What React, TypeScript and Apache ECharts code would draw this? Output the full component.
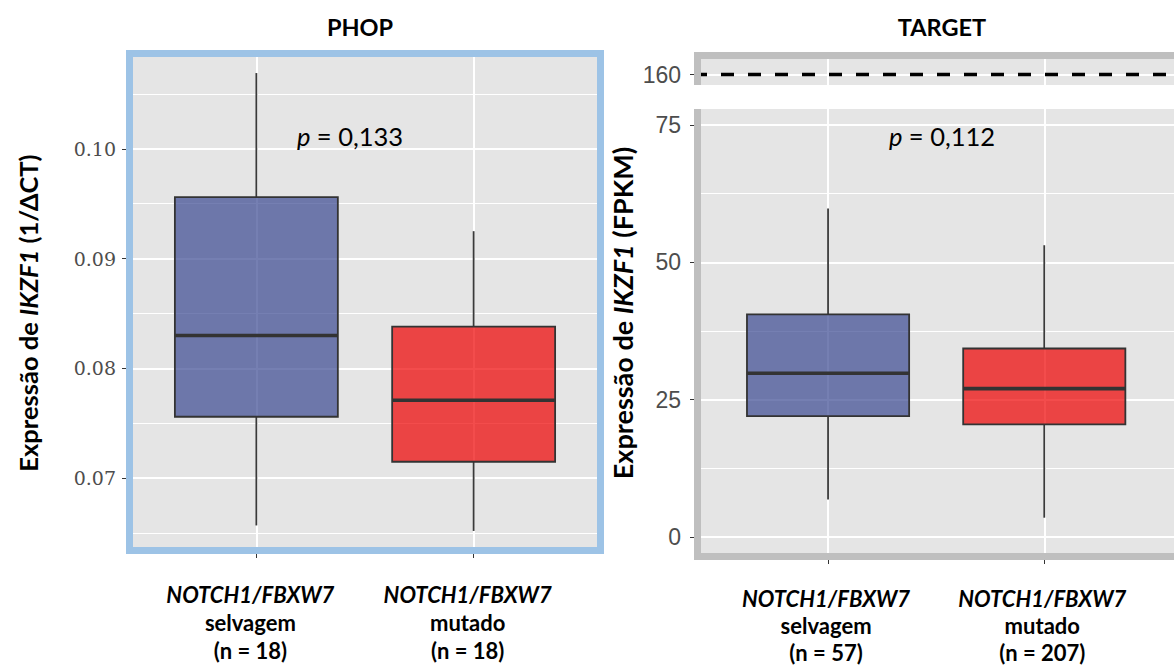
import React, { useEffect, useRef } from 'react';
import * as echarts from 'echarts';

// ---------- data ----------
const GROUPS = ['selvagem', 'mutado'];
const GENE = 'NOTCH1/FBXW7';
const PANEL_TITLES = ['PHOP', 'TARGET'];
const PHOP_N = [18, 18];
const TARGET_N = [57, 207];
// [min, Q1, median, Q3, max]
const PHOP_WT = [0.0657, 0.0756, 0.083, 0.0956, 0.1069];
const PHOP_MUT = [0.0652, 0.0715, 0.0771, 0.0838, 0.0925];
const TARGET_WT = [6.8, 22.0, 29.8, 40.5, 59.8];
const TARGET_MUT = [3.5, 20.5, 27.0, 34.3, 53.1];
const PHOP_MAJOR = [0.07, 0.08, 0.09, 0.1];
const PHOP_MINOR = [0.065, 0.075, 0.085, 0.095, 0.105];
const TARGET_MAJOR = [0, 25, 50, 75];
const TARGET_MINOR = [12.5, 37.5, 62.5];
const TARGET_BREAK = [160];
const P_VALUES = ['0,133', '0,112'];
const FILLS = ['rgba(59,73,146,0.7)', 'rgba(238,0,0,0.7)'];

const FONT = 'Lato';
const BG = '#e5e5e5';
const TICK = '#333333';

function boxRender(params: any, api: any) {
  const x = api.value(0);
  const pMin = api.coord([x, api.value(1)]);
  const pQ1 = api.coord([x, api.value(2)]);
  const pMed = api.coord([x, api.value(3)]);
  const pQ3 = api.coord([x, api.value(4)]);
  const pMax = api.coord([x, api.value(5)]);
  const w = api.size([0.75, 0])[0];
  const cx = pMed[0];
  const fill = FILLS[params.dataIndex];
  const stroke = { stroke: '#3a3a3a', lineWidth: 1.8 };
  return {
    type: 'group',
    children: [
      { type: 'line', shape: { x1: cx, y1: pMin[1], x2: cx, y2: pQ1[1] }, style: stroke },
      { type: 'line', shape: { x1: cx, y1: pQ3[1], x2: cx, y2: pMax[1] }, style: stroke },
      {
        type: 'rect',
        shape: { x: cx - w / 2, y: pQ3[1], width: w, height: pQ1[1] - pQ3[1] },
        style: { fill, stroke: '#333333', lineWidth: 1.8 },
      },
      {
        type: 'line',
        shape: { x1: cx - w / 2, y1: pMed[1], x2: cx + w / 2, y2: pMed[1] },
        style: { stroke: '#333333', lineWidth: 3.6 },
      },
    ],
  };
}

function richLabel(lh: number) {
  return {
    i: { fontFamily: FONT, fontSize: 22, fontWeight: 'bold', fontStyle: 'italic', color: '#000', lineHeight: lh },
    b: { fontFamily: FONT, fontSize: 22, fontWeight: 'bold', color: '#000', lineHeight: lh },
  };
}

function xAxisCfg(gridIndex: number, min: number, max: number, counts: number[] | null, margin: number, lh: number, padding: number[]) {
  return {
    type: 'value',
    gridIndex,
    min,
    max,
    axisLine: { show: false, onZero: false },
    axisTick: {
      show: counts !== null,
      customValues: [1, 2],
      length: 4,
      lineStyle: { color: TICK, width: 1 },
    },
    axisLabel: {
      show: counts !== null,
      customValues: [1, 2],
      margin,
      padding,
      formatter: (v: number) => {
        const i = Math.round(v) - 1;
        if (!counts || i < 0 || i > 1) return '';
        return `{i|${GENE}}\n{b|${GROUPS[i]}}\n{b|(n = ${counts[i]})}`;
      },
      rich: richLabel(lh),
    },
    splitLine: { show: true, lineStyle: { color: '#ffffff', width: 2 } },
  };
}

function yMajor(gridIndex: number, min: number, max: number, ticks: number[], font: any, margin: number, fmt: (v: number) => string) {
  return {
    type: 'value',
    gridIndex,
    min,
    max,
    position: 'left',
    axisLine: { show: false, onZero: false },
    axisTick: { show: true, customValues: ticks, length: 4, lineStyle: { color: TICK, width: 1 } },
    axisLabel: { show: true, customValues: ticks, margin, formatter: fmt, color: '#4d4d4d', ...font },
    splitLine: { show: true, lineStyle: { color: '#ffffff', width: 2 } },
  };
}

function yMinor(gridIndex: number, min: number, max: number, ticks: number[]) {
  return {
    type: 'value',
    gridIndex,
    min,
    max,
    position: 'left',
    axisLine: { show: false, onZero: false },
    axisTick: { show: false, customValues: ticks },
    axisLabel: { show: false, customValues: ticks },
    splitLine: { show: true, lineStyle: { color: '#ffffff', width: 1.1 } },
  };
}

function textEl(x: number, y: number, text: string, rich: any, rotation = 0) {
  return {
    type: 'text',
    x,
    y,
    rotation,
    z: 120,
    style: {
      text,
      rich,
      align: 'center',
      verticalAlign: 'middle',
      textAlign: 'center',
      textVerticalAlign: 'middle',
    },
  };
}

function yTitleRich(size: number) {
  return {
    b: { fontFamily: FONT, fontSize: size, fontWeight: 'bold', color: '#000' },
    bi: { fontFamily: FONT, fontSize: size, fontWeight: 'bold', fontStyle: 'italic', color: '#000' },
  };
}

export default function App() {
  const ref = useRef<HTMLDivElement>(null);

  useEffect(() => {
    document.body.style.margin = '0';
    if (!ref.current) return;
    const chart = echarts.init(ref.current, undefined, { renderer: 'svg' });

    const titleRich = { t: { fontFamily: FONT, fontSize: 23.5, fontWeight: 'bold', color: '#000' } };
    const pRich = {
      i: { fontFamily: FONT, fontSize: 25.5, fontStyle: 'italic', color: '#000' },
      r: { fontFamily: FONT, fontSize: 25.5, color: '#000' },
    };

    const option: any = {
      animation: false,
      backgroundColor: '#ffffff',
      grid: [
        { left: 126, top: 50, width: 478, height: 504, show: true, backgroundColor: BG, borderWidth: 0 },
        { left: 694, top: 109, width: 489, height: 451, show: true, backgroundColor: BG, borderWidth: 0 },
        { left: 694, top: 52, width: 489, height: 33, show: true, backgroundColor: BG, borderWidth: 0 },
      ],
      xAxis: [
        xAxisCfg(0, 0.4, 2.6, PHOP_N, 26, 28, [0, 12, 0, 0]),
        xAxisCfg(1, 0.38, 2.6, TARGET_N, 24.5, 27, [0, 4, 0, 0]),
        xAxisCfg(2, 0.38, 2.6, null, 0, 27, [0, 0, 0, 0]),
      ],
      yAxis: [
        yMajor(0, 0.0631, 0.109, PHOP_MAJOR, { fontFamily: 'DejaVu Serif', fontSize: 19 }, 10, (v) => v.toFixed(2)),
        yMinor(0, 0.0631, 0.109, PHOP_MINOR),
        yMajor(1, -4.2, 77.9, TARGET_MAJOR, { fontFamily: 'Liberation Sans', fontSize: 23 }, 13, (v) => String(v)),
        yMinor(1, -4.2, 77.9, TARGET_MINOR),
        yMajor(2, 158.1, 164.1, TARGET_BREAK, { fontFamily: 'Liberation Sans', fontSize: 23 }, 13, (v) => String(v)),
      ],
      series: [
        {
          type: 'custom',
          xAxisIndex: 0,
          yAxisIndex: 0,
          renderItem: boxRender,
          dimensions: ['x', 'min', 'q1', 'median', 'q3', 'max'],
          encode: { x: 0, y: [1, 2, 3, 4, 5] },
          data: [
            [1, ...PHOP_WT],
            [2, ...PHOP_MUT],
          ],
          z: 5,
        },
        {
          type: 'custom',
          xAxisIndex: 1,
          yAxisIndex: 2,
          renderItem: boxRender,
          dimensions: ['x', 'min', 'q1', 'median', 'q3', 'max'],
          encode: { x: 0, y: [1, 2, 3, 4, 5] },
          data: [
            [1, ...TARGET_WT],
            [2, ...TARGET_MUT],
          ],
          z: 5,
        },
        {
          type: 'line',
          xAxisIndex: 2,
          yAxisIndex: 4,
          symbol: 'none',
          silent: true,
          lineStyle: { color: '#000000', width: 3.6, type: [13, 14] },
          data: [
            [0.38, TARGET_BREAK[0]],
            [2.6, TARGET_BREAK[0]],
          ],
          z: 5,
        },
      ],
      graphic: [
        textEl(360, 27, `{t|${PANEL_TITLES[0]}}`, titleRich),
        textEl(942, 27, `{t|${PANEL_TITLES[1]}}`, titleRich),
        textEl(28, 313, '{b|Expressão de }{bi|IKZF1}{b| (1/ΔCT)}', yTitleRich(25.5), Math.PI / 2),
        textEl(622, 313, '{b|Expressão de }{bi|IKZF1}{b| (FPKM)}', yTitleRich(27), Math.PI / 2),
        textEl(350, 136, `{i|p}{r| = ${P_VALUES[0]}}`, pRich),
        textEl(942, 136, `{i|p}{r| = ${P_VALUES[1]}}`, pRich),
        {
          type: 'rect',
          z: 110,
          shape: { x: 129.5, y: 53.5, width: 471, height: 497 },
          style: { fill: 'none', stroke: '#9dc3e6', lineWidth: 7 },
        },
        {
          type: 'polyline',
          z: 110,
          shape: { points: [[697.5, 85], [697.5, 55.5], [1180, 55.5]] },
          style: { fill: 'none', stroke: '#bfbfbf', lineWidth: 7 },
        },
        {
          type: 'polyline',
          z: 110,
          shape: { points: [[697.5, 109], [697.5, 556.5], [1180, 556.5]] },
          style: { fill: 'none', stroke: '#bfbfbf', lineWidth: 7 },
        },
      ],
    };

    chart.setOption(option);
    return () => chart.dispose();
  }, []);

  return <div ref={ref} style={{ width: 1174, height: 665 }} />;
}
